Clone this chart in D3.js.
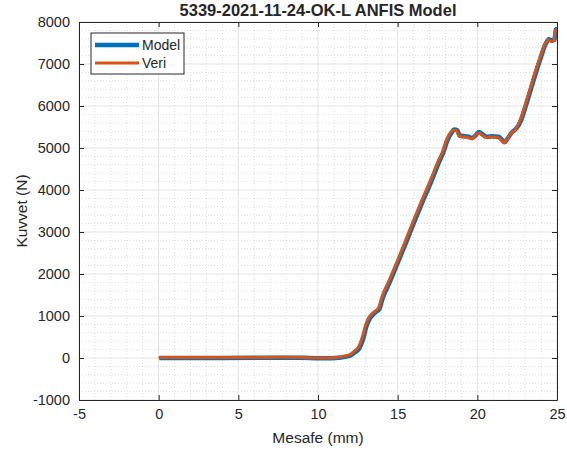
<!doctype html>
<html>
  <head>
    <script src="https://d3js.org/d3.v7.min.js" charset="utf-8"></script>
    <style>
      body { margin: 0; background: #fff; }
      text { font-family: "Liberation Sans", Arial, sans-serif; fill: #262626; }
    </style>
  </head>
  <body>
    <script>

// data (mm, N)
var veriX = [0, 2, 4, 6, 8, 9, 10, 10.8, 11.3, 11.6, 12.0, 12.3, 12.55, 12.8, 13.0, 13.2, 13.4, 13.6, 13.8, 14.0, 14.5, 15.0, 15.5, 16.0, 16.5, 17.0, 17.3, 17.55, 17.8, 18.1, 18.35, 18.5, 18.7, 18.85, 19.0, 19.4, 19.65, 19.85, 20.05, 20.3, 20.55, 20.9, 21.3, 21.5, 21.68, 21.85, 22.1, 22.4, 22.7, 23.0, 23.3, 23.6, 23.95, 24.25, 24.45, 24.65, 24.8, 24.9, 25.0];
var veriY = [10, 10, 10, 12, 15, 10, 0, 0, 20, 40, 80, 170, 270, 520, 800, 970, 1060, 1120, 1190, 1440, 1880, 2330, 2800, 3280, 3740, 4180, 4460, 4700, 4900, 5230, 5380, 5420, 5410, 5280, 5270, 5250, 5220, 5290, 5360, 5310, 5250, 5260, 5250, 5180, 5120, 5200, 5350, 5440, 5680, 6030, 6400, 6780, 7180, 7480, 7570, 7530, 7560, 7810, 7810];
var modelX = veriX.map(function(d) { return d; });
var modelY = [0, 0, 0, 5, 8, 5, -5, -5, 5, 25, 60, 140, 230, 460, 760, 930, 1030, 1100, 1160, 1400, 1840, 2300, 2760, 3240, 3700, 4140, 4420, 4660, 4870, 5200, 5370, 5440, 5420, 5300, 5290, 5270, 5240, 5300, 5380, 5320, 5270, 5280, 5270, 5200, 5140, 5220, 5360, 5460, 5650, 6000, 6370, 6750, 7160, 7480, 7590, 7560, 7580, 7830, 7830];

var xTicks = [-5, 0, 5, 10, 15, 20, 25];
var yTicks = [-1000, 0, 1000, 2000, 3000, 4000, 5000, 6000, 7000, 8000];
var seriesNames = ["Model", "Veri"];
var seriesColors = ["#0072BD", "#D95319"];

var W = 567, H = 450;
var m = { left: 79, right: 10, top: 22, bottom: 50 };

var svg = d3.select("body")
  .append("svg")
    .attr("width", W)
    .attr("height", H);

var x = d3.scaleLinear().domain([-5, 25]).range([m.left, W - m.right]);
var y = d3.scaleLinear().domain([-1000, 8000]).range([H - m.bottom, m.top]);

// minor grid (dotted)
var g = svg.append("g");
d3.range(-5, 25.01, 1).forEach(function(v) {
  if (v % 5 === 0) return;
  g.append("line")
    .attr("x1", x(v)).attr("x2", x(v))
    .attr("y1", y(-1000)).attr("y2", y(8000))
    .attr("stroke", "#c8c8c8").attr("stroke-width", 0.6)
    .attr("stroke-dasharray", "1,2");
});
d3.range(-1000, 8001, 200).forEach(function(v) {
  if (v % 1000 === 0) return;
  g.append("line")
    .attr("x1", x(-5)).attr("x2", x(25))
    .attr("y1", y(v)).attr("y2", y(v))
    .attr("stroke", "#c8c8c8").attr("stroke-width", 0.6)
    .attr("stroke-dasharray", "1,2");
});
// major grid
xTicks.forEach(function(v) {
  g.append("line")
    .attr("x1", x(v)).attr("x2", x(v))
    .attr("y1", y(-1000)).attr("y2", y(8000))
    .attr("stroke", "#e3e3e3").attr("stroke-width", 1);
});
yTicks.forEach(function(v) {
  g.append("line")
    .attr("x1", x(-5)).attr("x2", x(25))
    .attr("y1", y(v)).attr("y2", y(v))
    .attr("stroke", "#e3e3e3").attr("stroke-width", 1);
});

// the two curves
var line = d3.line()
  .x(function(d) { return x(d[0]); })
  .y(function(d) { return y(d[1]); })
  .curve(d3.curveMonotoneX);

var modelData = modelX.map(function(d, i) { return [d + 0.04, modelY[i]]; });
var veriData = veriX.map(function(d, i) { return [d, veriY[i]]; });

svg.append("path")
  .datum(modelData)
  .attr("d", line)
  .attr("fill", "none")
  .attr("stroke", seriesColors[0])
  .attr("stroke-width", 4.5)
  .attr("stroke-linejoin", "round");
svg.append("path")
  .datum(veriData)
  .attr("d", line)
  .attr("fill", "none")
  .attr("stroke", seriesColors[1])
  .attr("stroke-width", 3)
  .attr("stroke-linejoin", "round");

// axes with box, ticks inside
var plain = function(d) { return String(d); };
var axB = d3.axisBottom(x).tickValues(xTicks).tickSizeInner(-5).tickSizeOuter(0).tickPadding(9).tickFormat(plain);
var axT = d3.axisTop(x).tickValues(xTicks).tickSizeInner(-5).tickSizeOuter(0).tickFormat("");
var axL = d3.axisLeft(y).tickValues(yTicks).tickSizeInner(-5).tickSizeOuter(0).tickPadding(9).tickFormat(plain);
var axR = d3.axisRight(y).tickValues(yTicks).tickSizeInner(-5).tickSizeOuter(0).tickFormat("");

[[axB, "translate(0," + y(-1000) + ")"],
 [axT, "translate(0," + y(8000) + ")"],
 [axL, "translate(" + x(-5) + ",0)"],
 [axR, "translate(" + x(25) + ",0)"]].forEach(function(a) {
  var s = svg.append("g").attr("transform", a[1]).call(a[0]);
  s.select(".domain").attr("stroke", "#262626").attr("stroke-width", 1);
  s.selectAll(".tick line").attr("stroke", "#262626");
  s.selectAll("text").style("font-size", "14.5px").style("font-family", "Liberation Sans, Arial, sans-serif").attr("fill", "#262626");
});

// title and labels
svg.append("text")
  .attr("x", (x(-5) + x(25)) / 2).attr("y", 16)
  .attr("text-anchor", "middle")
  .style("font-size", "16.5px").style("font-weight", "bold")
  .attr("fill", "#000")
  .text("5339-2021-11-24-OK-L ANFIS Model");
svg.append("text")
  .attr("x", (x(-5) + x(25)) / 2).attr("y", 443)
  .attr("text-anchor", "middle")
  .style("font-size", "15.5px")
  .text("Mesafe (mm)");
svg.append("text")
  .attr("transform", "translate(27," + (y(-1000) + y(8000)) / 2 + ") rotate(-90)")
  .attr("text-anchor", "middle")
  .style("font-size", "15.5px")
  .text("Kuvvet (N)");

// legend
var lg = svg.append("g").attr("transform", "translate(91,33)");
lg.append("rect")
  .attr("width", 93).attr("height", 41)
  .attr("fill", "#fff").attr("stroke", "#262626").attr("stroke-width", 1);
seriesNames.forEach(function(n, i) {
  var yy = 12 + i * 18;
  lg.append("line")
    .attr("x1", 4).attr("x2", 48)
    .attr("y1", yy).attr("y2", yy)
    .attr("stroke", seriesColors[i])
    .attr("stroke-width", i === 0 ? 4.5 : 3);
  lg.append("text")
    .attr("x", 51).attr("y", yy + 5)
    .style("font-size", "14px")
    .attr("fill", "#000")
    .text(n);
});

    </script>
  </body>
</html>
